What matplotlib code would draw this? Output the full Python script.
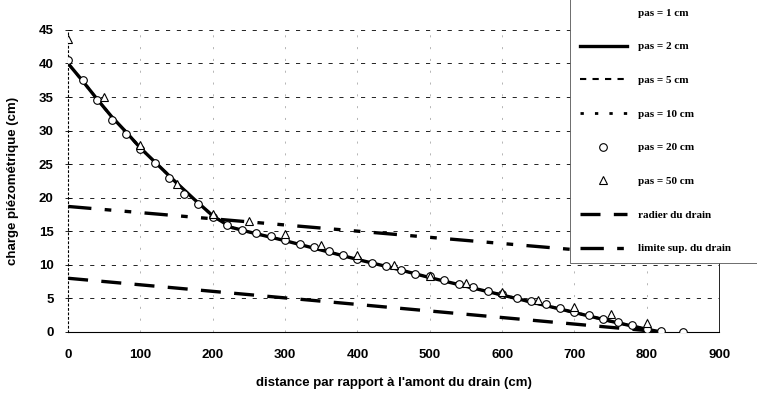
import matplotlib.pyplot as plt

# fine-step solutions (pas = 1, 2, 5, 10 cm) overlap on the chart
x_fine = [0, 20, 40, 60, 80, 100, 125, 150, 175, 200, 225, 250, 300, 350,
          400, 450, 500, 550, 600, 650, 700, 750, 800, 820]
h_fine = [40.0, 37.4, 34.7, 32.1, 29.8, 27.4, 24.8, 22.2, 19.7, 17.3, 15.6,
          14.9, 13.6, 12.2, 10.8, 9.5, 8.1, 6.8, 5.5, 4.2, 2.9, 1.6, 0.4, 0.0]

# pas = 20 cm (circles)
x_20 = [0, 20, 40, 60, 80, 100, 120, 140, 160, 180, 200, 220, 240, 260, 280,
        300, 320, 340, 360, 380, 400, 420, 440, 460, 480, 500, 520, 540, 560,
        580, 600, 620, 640, 660, 680, 700, 720, 740, 760, 780, 800, 820, 850]
h_20 = [40.5, 37.6, 34.6, 31.6, 29.5, 27.3, 25.2, 23.0, 20.6, 19.0, 17.2,
        16.0, 15.2, 14.8, 14.3, 13.7, 13.1, 12.6, 12.0, 11.5, 10.8, 10.3, 9.8,
        9.3, 8.7, 8.3, 7.7, 7.2, 6.7, 6.1, 5.6, 5.1, 4.6, 4.1, 3.5, 3.0, 2.5,
        2.0, 1.5, 1.0, 0.5, 0.1, 0.0]

# pas = 50 cm (triangles)
x_50 = [0, 50, 100, 150, 200, 250, 300, 350, 400, 450, 500, 550, 600, 650,
        700, 750, 800]
h_50 = [43.6, 35.0, 27.9, 22.0, 17.6, 16.5, 14.6, 13.0, 11.4, 10.0, 8.4,
        7.3, 6.0, 4.8, 3.7, 2.7, 1.3]

# drain geometry
x_radier = [0, 800]
h_radier = [8.0, 0.2]
x_limite = [0, 750]
h_limite = [18.7, 11.8]

labels = ['pas = 1 cm', 'pas = 2 cm', 'pas = 5 cm', 'pas = 10 cm',
          'pas = 20 cm', 'pas = 50 cm', 'radier du drain',
          'limite sup. du drain']

fig = plt.figure(figsize=(7.57, 3.99), dpi=100)
ax = fig.add_axes([0.090, 0.168, 0.860, 0.757])

# horizontal dashed grid, faint vertical grid
for y in range(5, 50, 5):
    ax.axhline(y, color='black', lw=0.6, dashes=(5, 8), zorder=0)
for x in range(100, 900, 100):
    ax.axvline(x, color='#999999', lw=0.5, dashes=(3, 14), zorder=0)

h1, = ax.plot(x_fine, h_fine, linestyle='none', color='black')
h2, = ax.plot(x_fine, h_fine, color='black', lw=2.4, zorder=3)
h5, = ax.plot(x_fine, h_fine, color='black', lw=1.5, dashes=(3, 3), zorder=3)
h10, = ax.plot(x_fine, h_fine, color='black', lw=2.0, dashes=(1.2, 4), zorder=3)
h20, = ax.plot(x_20, h_20, linestyle='none', marker='o', ms=5.5,
               mfc='white', mec='black', mew=0.8, zorder=4)
h50, = ax.plot(x_50, h_50, linestyle='none', marker='^', ms=6,
               mfc='white', mec='black', mew=0.8, zorder=4)
hr, = ax.plot(x_radier, h_radier, color='black', lw=2.4, dashes=(6, 4), zorder=2)
hl, = ax.plot(x_limite, h_limite, color='black', lw=2.4,
              dashes=(7, 4, 2, 4, 2, 4), zorder=2)

ax.set_xlim(0, 900)
ax.set_ylim(0, 45)
ax.set_xticks(range(0, 1000, 100))
ax.set_yticks(range(0, 50, 5))

tick_font = dict(family='Liberation Sans', weight='bold', size=9.5)
ax.set_xticklabels([str(v) for v in range(0, 1000, 100)], fontdict=tick_font)
ax.set_yticklabels([str(v) for v in range(0, 50, 5)], fontdict=tick_font)
ax.tick_params(axis='x', length=0, pad=12)
ax.tick_params(axis='y', direction='inout', length=5, width=0.6, pad=8)

ax.spines['top'].set_visible(False)
ax.spines['left'].set_linestyle((0, (1.5, 2.5)))
ax.spines['left'].set_linewidth(0.8)
ax.spines['bottom'].set_linewidth(0.8)
ax.spines['right'].set_linewidth(0.6)

ax.set_xlabel("distance par rapport à l'amont du drain (cm)",
              family='Liberation Sans', weight='bold', size=9.5, labelpad=12)
ax.set_ylabel('charge piézométrique (cm)',
              family='Liberation Sans', weight='bold', size=9.5, labelpad=14)

leg = fig.legend([h1, h2, h5, h10, h20, h50, hr, hl], labels,
                 loc='upper left', bbox_to_anchor=(0.753, 1.005, 0.3, 0.0),
                 mode='expand',
                 prop=dict(family='Liberation Serif', weight='bold', size=8),
                 handlelength=4.2, handletextpad=1.0, labelspacing=2.15,
                 borderpad=0.9, frameon=True, fancybox=False,
                 framealpha=1, edgecolor='#555555', borderaxespad=0)
leg.get_frame().set_linewidth(0.6)
leg.set_zorder(10)

plt.savefig('out.png', dpi=100)
plt.close()
